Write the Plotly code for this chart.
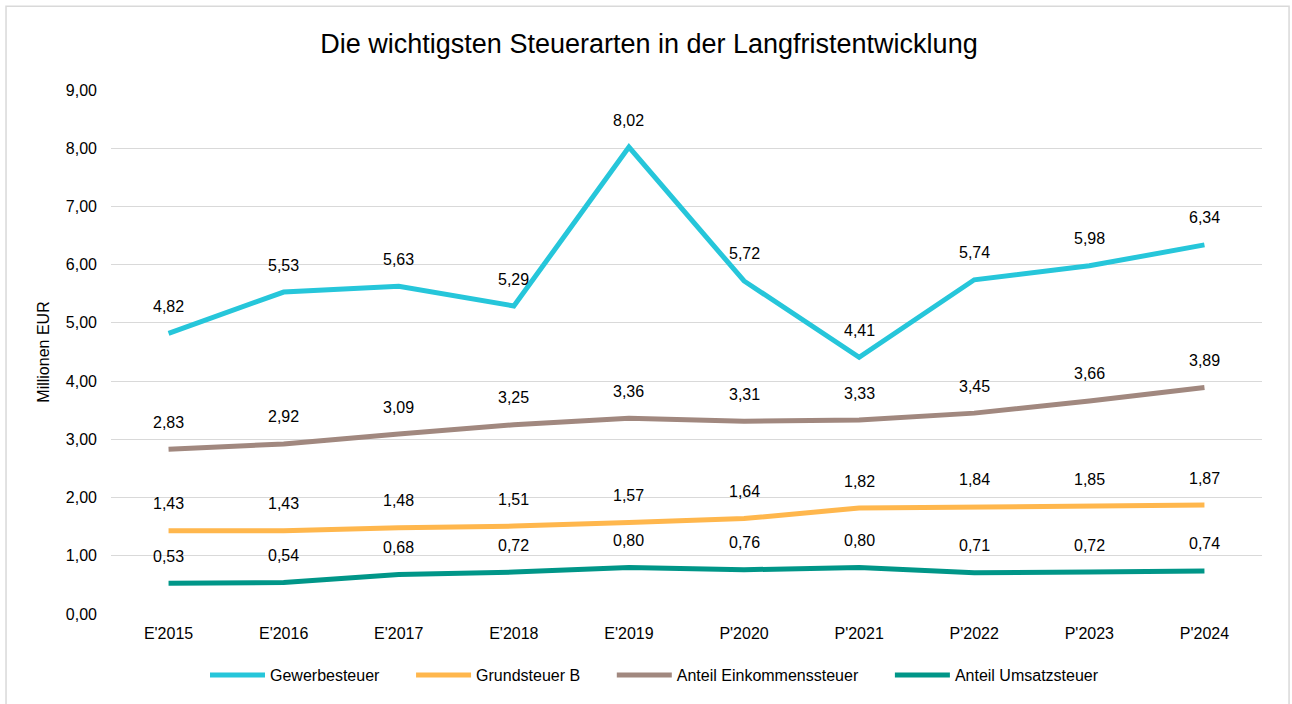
import plotly.graph_objects as go

jahre = ["E'2015", "E'2016", "E'2017", "E'2018", "E'2019",
         "P'2020", "P'2021", "P'2022", "P'2023", "P'2024"]

gewerbesteuer = [4.82, 5.53, 5.63, 5.29, 8.02, 5.72, 4.41, 5.74, 5.98, 6.34]
grundsteuer_b = [1.43, 1.43, 1.48, 1.51, 1.57, 1.64, 1.82, 1.84, 1.85, 1.87]
einkommensteuer = [2.83, 2.92, 3.09, 3.25, 3.36, 3.31, 3.33, 3.45, 3.66, 3.89]
umsatzsteuer = [0.53, 0.54, 0.68, 0.72, 0.80, 0.76, 0.80, 0.71, 0.72, 0.74]

serien = [
    ("Gewerbesteuer", gewerbesteuer, "#26C6DA"),
    ("Grundsteuer B", grundsteuer_b, "#FFB74D"),
    ("Anteil Einkommenssteuer", einkommensteuer, "#A1887F"),
    ("Anteil Umsatzsteuer", umsatzsteuer, "#009688"),
]

schrift = "Liberation Sans, Arial, sans-serif"
pad = "\u00a0" * 6  # extra space between legend entries

fig = go.Figure()
annotations = []
for name, werte, farbe in serien:
    fig.add_trace(go.Scatter(x=jahre, y=werte, name=name + pad, mode="lines",
                             line=dict(color=farbe, width=5)))
    for j, w in zip(jahre, werte):
        annotations.append(dict(x=j, y=w, text=f"{w:.2f}".replace(".", ","),
                                showarrow=False, yshift=27,
                                font=dict(size=16, color="#000000", family=schrift)))

fig.update_layout(
    width=1292, height=704,
    paper_bgcolor="white", plot_bgcolor="white",
    margin=dict(l=111, r=30, t=90, b=90),
    separators=",.",
    title=dict(text="Die wichtigsten Steuerarten in der Langfristentwicklung",
               x=649 / 1292, xanchor="center", y=1 - 44 / 704, yanchor="middle",
               font=dict(size=27, color="#000000", family=schrift)),
    font=dict(family=schrift, size=16, color="#000000"),
    xaxis=dict(range=[-0.5, 9.5], showgrid=False, showline=False, ticks="",
               ticklabelstandoff=8, tickfont=dict(size=16)),
    yaxis=dict(range=[0, 9], dtick=1, tickformat=".2f", showgrid=True,
               gridcolor="#d9d9d9", gridwidth=1, zeroline=False, ticks="",
               ticklabelstandoff=13,
               title=dict(text="Millionen EUR", font=dict(size=16), standoff=12),
               tickfont=dict(size=16)),
    legend=dict(orientation="h", xref="container", yref="container",
                x=205 / 1292, xanchor="left", y=1 - 675 / 704, yanchor="middle",
                font=dict(size=16), itemwidth=55),
    annotations=annotations,
    shapes=[dict(type="rect", xref="paper", yref="paper",
                 x0=-0.0912, x1=1.0235, y0=-0.20, y1=1.160,
                 line=dict(color="#d9d9d9", width=1.5))],
)

fig.write_html("out.html", config={"displayModeBar": False},
               post_script="document.body.style.margin='0px';")
